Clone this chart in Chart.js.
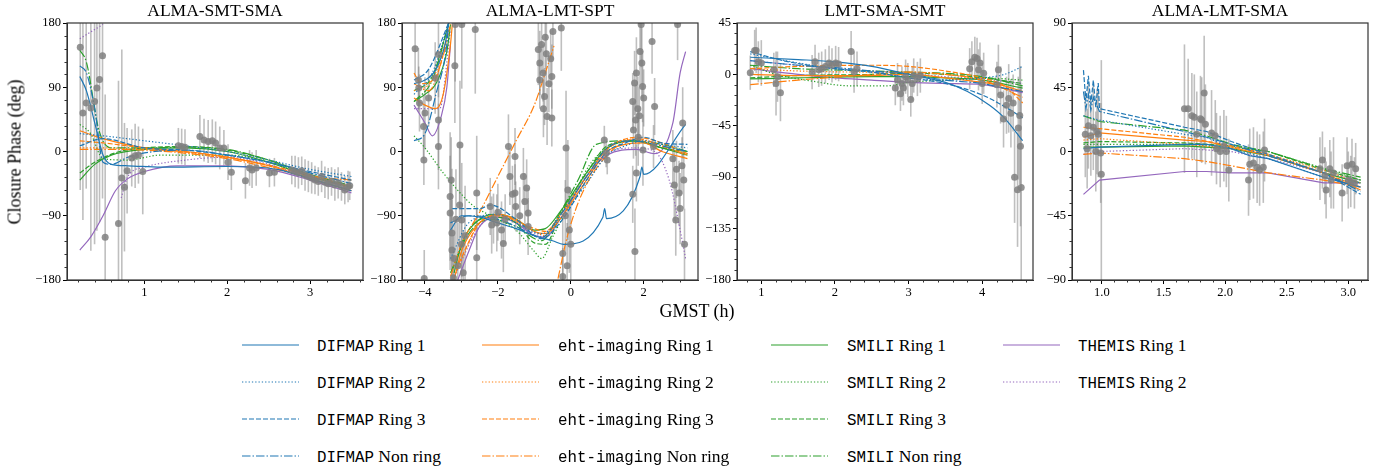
<!DOCTYPE html>
<html>
<head>
<meta charset="utf-8">
<script src="https://cdn.jsdelivr.net/npm/chart.js@4.4.1/dist/chart.umd.min.js"></script>
<style>
body { margin: 0; background: #fff; width: 1392px; height: 472px; position: relative; overflow: hidden; font-family: 'Liberation Serif', serif; color: #000; }
canvas { position: absolute; top: 0; }
.title { position: absolute; top: 0px; width: 296px; text-align: center; font-size: 17.5px; line-height: 20px; }
.ylab { position: absolute; left: 15px; top: 152px; transform: translate(-50%, -50%) rotate(-90deg); font-size: 18px; white-space: nowrap; }
.xlab { position: absolute; left: 697px; top: 311px; transform: translate(-50%, -50%); font-size: 18px; white-space: nowrap; }
.leg { position: absolute; font-size: 17.5px; line-height: 20px; white-space: nowrap; }
.tt { font-family: 'Liberation Mono', monospace; font-size: 15.8px; }
svg { position: absolute; overflow: visible; }
</style>
</head>
<body>
<script>
// legend / style info
const pipelines = ['DIFMAP', 'eht-imaging', 'SMILI', 'THEMIS'];
const variants = ['Ring 1', 'Ring 2', 'Ring 3', 'Non ring'];
const pipelineColors = ['#1f77b4', '#ff7f0e', '#2ca02c', '#9467bd'];
const variantDashes = [[], [1.3, 2], [5, 2], [8.5, 2, 1.5, 2]];

// ---------- ALMA-SMT-SMA ----------
const p1XTicks = [1, 2, 3];
const p1XLabels = ['1', '2', '3'];
const p1YTicks = [-180, -90, 0, 90, 180];
const p1YLabels = ['\u2212180', '\u221290', '0', '90', '180'];
const p1Time = [0.225,0.257,0.297,0.353,0.398,0.426,0.458,0.494,0.526,0.687,0.727,0.759,0.791,0.847,0.888,0.928,0.98,1.41,1.45,1.49,1.67,1.72,1.77,1.82,1.86,1.91,1.96,2.01,2.05,2.22,2.27,2.30,2.35,2.51,2.57,2.78,2.82,2.86,2.90,2.94,2.98,3.02,3.06,3.10,3.14,3.18,3.22,3.26,3.30,3.34,3.38,3.42,3.46,3.48];
const p1Phase = [146,54,68,61,70,89,101,134,-120,-101,-37,-50,-27,-9,-6,-5,-28,8,7,6,21,16,14,15,12,5,5,-15,-29,-41,-23,-26,-23,-30,-29,-26,-28,-30,-27,-33,-35,-37,-40,-42,-35,-43,-45,-42,-47,-44,-49,-54,-49,-48];
const p1Err = [200,150,120,200,200,200,200,200,200,200,180,90,60,40,45,40,60,25,25,25,30,30,30,30,30,30,25,25,25,25,25,25,25,20,20,20,22,22,20,22,22,22,20,20,22,22,22,20,22,22,20,20,22,20];
const p1Difmap = [
  [[0.22,105],[0.3,85],[0.4,40],[0.5,-5],[0.6,-18],[0.8,-20],[1.2,-22],[2.0,-21],[2.6,-25],[3.0,-38],[3.5,-55]],
  [[0.22,25],[0.5,22],[1.0,15],[1.5,8],[2.0,0],[2.5,-12],[3.0,-25],[3.5,-35]],
  [[0.22,8],[0.5,18],[1.0,5],[1.5,2],[2.0,-5],[2.5,-15],[3.0,-28],[3.5,-40]],
  [[0.22,120],[0.3,110],[0.4,60],[0.5,-15],[0.6,-18],[0.8,-8],[1.0,-2],[1.5,2],[2.0,-5],[2.5,-15],[3.0,-30],[3.5,-45]]
];
const p1Eht = [
  [[0.22,29],[0.5,18],[1.0,5],[1.5,0],[2.0,-8],[2.5,-20],[3.0,-38],[3.5,-55]],
  [[0.22,5],[0.5,5],[1.0,3],[2.0,-8],[3.0,-35],[3.5,-52]],
  [[0.22,15],[0.5,12],[1.0,5],[2.0,-8],[3.0,-33],[3.5,-50]],
  [[0.22,3],[0.5,3],[1.0,2],[2.0,-10],[3.0,-35],[3.5,-40]]
];
const p1Smili = [
  [[0.22,-40],[0.4,-18],[0.6,-5],[1.0,3],[1.5,5],[2.0,0],[2.5,-15],[3.0,-35],[3.5,-50]],
  [[0.22,38],[0.35,25],[0.5,-10],[0.8,-12],[1.2,-5],[2.0,-5],[3.0,-33],[3.5,-50]],
  [[0.22,-30],[0.4,-15],[0.7,0],[1.0,5],[1.5,7],[2.0,2],[2.5,-12],[3.0,-33],[3.5,-50]],
  [[0.22,142],[0.3,125],[0.45,30],[0.6,5],[1.0,5],[1.5,6],[2.0,3],[2.5,-12],[3.0,-32],[3.5,-48]]
];
const p1Themis = [
  [[0.22,-138],[0.35,-120],[0.5,-90],[0.65,-55],[0.8,-38],[1.0,-28],[1.4,-20],[2.0,-20],[2.5,-25],[3.0,-40],[3.5,-58]],
  [[0.22,158],[0.5,178],null,[0.72,-65],[0.8,-35],[1.0,-22],[1.5,-12],[2.0,-8],[2.5,-18],[3.0,-38],[3.5,-55]]
];

// ---------- ALMA-LMT-SPT ----------
const p2XTicks = [-4, -2, 0, 2];
const p2XLabels = ['\u22124', '\u22122', '0', '2'];
const p2YTicks = [-180, -90, 0, 90, 180];
const p2YLabels = ['\u2212180', '\u221290', '0', '90', '180'];
const p2Time = [-4.27,-4.18,-4.17,-4.15,-4.04,-4.03,-4.0,-3.9,-3.63,-3.63,-3.63,-3.72,-4.02,-3.31,-3.31,-3.26,-3.26,-3.22,-3.17,-3.04,-2.99,-2.99,-2.9,-2.62,-2.58,-2.58,-2.21,-2.17,-2.12,-2.03,-1.85,-1.71,-1.67,-1.53,-1.53,-1.51,-1.26,-1.21,-1.17,-1.17,-0.89,-0.85,-0.76,-0.67,-0.72,-0.65,-0.49,-0.52,-0.52,-0.26,-0.13,-0.08,-0.04,-0.22,-0.22,0.92,0.97,1.0,1.70,1.75,1.78,1.84,1.93,1.95,1.97,1.98,1.76,1.8,2.23,2.27,2.3,2.84,2.88,2.93,2.97,3.07,3.1,
  -3.28,-3.2,-3.15,-3.1,-3.05,-3.0,-2.95,-3.18,-2.0,-1.9,-1.8,-1.6,-1.4,-1.3,-0.8,-0.7,-0.6,-0.55,-0.85,-0.75,-0.1,0.0,-0.15,1.72,1.8,1.85,1.9,1.88,2.0,1.7,2.8,2.9,3.0,3.05,3.12];
const p2Phase = [144,100,89,68,35,-12,54,75,136,44,7,103,-178,-63,-86,-114,-138,-177,178,9,178,-96,-118,171,-58,-149,-77,-103,-94,-100,-129,7,-35,-7,-58,-77,-70,-51,-86,-105,143,124,110,137,77,49,168,105,47,173,5,-54,-110,-143,-175,16,-2,-12,70,96,44,60,178,124,91,2,-140,-30,154,7,63,-47,-96,178,-58,40,-40,
  -40,-150,-95,-160,-75,-130,-170,120,-85,-110,-95,-60,-90,-35,150,160,95,130,100,60,-160,-130,-90,30,110,20,140,50,75,-60,-10,-25,-80,-20,-130];
const p2Err = [40,45,30,40,45,35,50,40,60,70,60,50,40,90,80,90,70,60,80,90,90,80,70,90,80,70,40,40,35,40,40,45,40,40,40,35,40,40,35,40,50,45,40,45,40,40,40,45,40,60,80,70,60,50,40,20,20,20,40,45,50,45,60,50,50,50,60,40,45,30,40,50,50,50,45,50,40,
  60,50,70,60,80,50,60,80,40,40,35,40,40,40,40,45,40,40,40,40,60,60,50,40,50,40,50,40,40,40,40,40,50,40,50];
const p2Difmap = [
  [[-4.3,95],[-4.0,100],[-3.7,115],[-3.45,150],[-3.35,180],null,[-3.3,-110],[-3.0,-90],[-2.5,-92],[-2.0,-100],[-1.5,-108],[-1.0,-118],[-0.5,-125],[-0.2,-130],[0.88,-92],[0.93,-80],[0.98,-94],[1.9,-35],[1.95,-22],[2.0,-32],[3.15,38]],
  [[-4.3,80],[-3.8,110],[-3.35,180],null,[-3.3,-150],[-2.8,-100],[-2.0,-88],[-1.5,-100],[-0.8,-115],[-0.3,-95],[0.5,-40],[1.0,-5],[1.5,8],[2.0,15],[2.5,10],[3.2,5]],
  [[-4.3,100],[-3.9,115],[-3.35,180],null,[-3.25,-80],[-2.5,-80],[-2.2,-75],[-1.5,-95],[-0.8,-122],[-0.3,-100],[0.5,-35],[1.0,0],[1.5,12],[2.0,20],[2.5,12],[3.2,10]],
  [[-4.3,15],[-4.0,25],[-3.7,80],[-3.4,150],[-3.35,180],null,[-3.3,-100],[-2.8,-90],[-2.0,-95],[-1.5,-105],[-0.8,-120],[-0.3,-90],[0.5,-30],[1.0,5],[1.7,15],[2.3,10],[3.2,0]]
];
const p2Eht = [
  [[-4.3,75],[-4.0,65],[-3.7,60],[-3.5,80],[-3.3,150],[-3.25,178],null,[-3.2,-180],[-3.0,-140],[-2.6,-105],[-2.0,-88],[-1.5,-95],[-1.0,-112],[-0.7,-115],[-0.3,-95],[0.3,-50],[1.0,0],[1.5,10],[2.0,12],[2.5,0],[3.2,-10]],
  [[-4.3,85],[-3.8,100],[-3.3,175],null,[-3.15,-170],[-2.5,-100],[-2.0,-90],[-1.0,-112],[-0.7,-118],[-0.3,-90],[0.5,-30],[1.0,5],[1.7,17],[2.3,10],[3.2,-5]],
  [[-4.3,110],[-4.1,95],[-3.7,105],[-3.3,178],null,[-3.15,-165],[-2.5,-100],[-2.0,-90],[-1.0,-108],[-0.7,-112],[-0.3,-90],[0.5,-30],[1.0,3],[1.8,20],[2.5,12],[3.2,-3]],
  [[-4.3,95],[-3.9,85],[-3.4,150],null,[-3.3,-175],[-3.0,-130],[-2.5,-85],[-2.0,-35],[-1.5,15],[-1.0,65],[-0.7,110],[-0.46,148],null,[-0.35,-178],[-0.1,-120],[0.3,-60],[1.0,-5],[1.8,18],[2.5,8],[3.2,-5]]
];
const p2Smili = [
  [[-4.3,70],[-4.0,80],[-3.7,95],[-3.4,140],[-3.3,178],null,[-3.2,-170],[-3.0,-130],[-2.5,-95],[-2.0,-88],[-1.5,-95],[-1.0,-110],[-0.7,-108],[-0.3,-85],[0.5,-25],[1.0,5],[1.7,15],[2.5,5],[3.2,-5]],
  [[-4.3,22],[-4.0,5],[-3.5,-30],[-3.0,-60],[-2.7,-75],[-2.2,-90],[-1.5,-110],[-1.0,-140],[-0.8,-150],[-0.5,-120],[0.0,-70],[0.5,-20],[1.0,5],[1.8,15],[2.5,5],[3.2,-3]],
  [[-4.3,85],[-3.8,105],[-3.35,178],null,[-3.25,-165],[-2.8,-110],[-2.2,-92],[-1.5,-100],[-1.0,-128],[-0.7,-130],[-0.3,-90],[0.5,-25],[1.0,8],[1.8,15],[2.5,5],[3.2,0]],
  [[-4.3,70],[-3.8,100],[-3.4,170],[-3.35,180],null,[-3.3,-170],[-2.8,-115],[-2.2,-95],[-1.5,-105],[-0.8,-125],[-0.4,-95],[0.2,-40],[0.7,10],[1.5,15],[2.5,10],[3.2,0]]
];
const p2Themis = [
  [[-4.3,65],[-4.0,40],[-3.8,22],[-3.55,50],[-3.4,90],[-3.3,150],null,[-3.1,-180],[-2.8,-140],[-2.5,-105],[-2.0,-92],[-1.5,-100],[-1.0,-118],[-0.7,-120],[-0.3,-95],[0.5,-30],[1.0,-5],[1.8,3],[2.3,-3],[2.8,40],[3.0,110],[3.15,140]],
  [[-4.3,60],[-3.6,60],[-3.3,170],null,[-3.2,-175],[-2.5,-105],[-2.0,-90],[-1.0,-115],[-0.7,-120],[-0.3,-90],[0.5,-30],[1.0,-2],[1.8,5],[2.3,0],[2.7,-40],[3.0,-110],[3.15,-150]]
];

// ---------- LMT-SMA-SMT ----------
const p3XTicks = [1, 2, 3, 4];
const p3XLabels = ['1', '2', '3', '4'];
const p3YTicks = [-180, -135, -90, -45, 0, 45];
const p3YLabels = ['\u2212180', '\u2212135', '\u221290', '\u221245', '0', '45'];
const p3Time = [0.85,0.91,0.93,0.96,1.0,1.17,1.2,1.22,1.26,1.69,1.73,1.78,1.82,1.87,1.92,1.96,2.01,2.05,2.22,2.26,2.30,2.82,2.85,2.89,2.91,2.93,2.96,2.99,3.03,3.05,3.07,3.12,3.16,3.83,3.86,3.9,3.93,3.95,3.97,4.0,4.02,4.2,4.22,4.25,4.29,4.33,4.36,4.39,4.42,4.44,4.48,4.49,4.51,4.52,4.53];
const p3Phase = [1.5,21,21,11,10,4,-8,-2,-16,2,11,4,5,7,10,8,10,9,20,2,5,-12,-5,-17,-8,-12,-2,-5,-22,-8,-1,-4,-1,5,11,15,14,4,10,-8,1,-9,4,-18,-39,-27,-21,-34,-25,-90,-101,-47,-36,-63,-99];
const p3Err = [15,18,20,18,20,15,28,22,25,15,15,15,15,15,15,15,15,15,18,18,15,15,15,15,15,15,15,15,15,15,15,15,15,18,18,18,18,18,18,18,18,20,22,25,25,25,30,30,25,40,50,45,60,70,90];
const p3Difmap = [
  [[0.85,15],[1.5,13],[2.0,11],[2.5,7],[3.0,0],[3.5,-7],[3.8,-15],[4.1,-27],[4.3,-38],[4.55,-58]],
  [[0.85,18],[1.5,10],[2.0,5],[2.5,2],[3.0,-3],[3.5,-5],[4.0,-3],[4.3,0],[4.55,7]],
  [[0.85,20],[1.3,12],[2.0,5],[2.5,2],[3.0,-3],[3.5,-8],[4.0,-18],[4.3,-28],[4.55,-38]],
  [[0.85,12],[1.5,8],[2.0,6],[2.5,3],[3.0,0],[3.5,-5],[4.0,-8],[4.3,-12],[4.55,-15]]
];
const p3Eht = [
  [[0.85,0],[1.5,-1],[2.5,-1],[3.0,0],[3.5,-3],[4.0,-7],[4.3,-10],[4.55,-15]],
  [[0.85,5],[1.5,3],[2.5,2],[3.0,2],[3.5,0],[4.0,-5],[4.55,-15]],
  [[0.85,5],[1.5,7],[2.5,8],[3.0,7],[3.5,3],[4.0,-3],[4.3,-10],[4.55,-25]],
  [[0.85,-9],[1.5,-5],[2.5,0],[3.0,2],[3.5,0],[4.0,-5],[4.55,-20]]
];
const p3Smili = [
  [[0.85,-4],[1.5,-3],[2.5,-2],[3.0,-2],[3.5,-3],[4.0,-5],[4.55,-12]],
  [[0.85,8],[1.2,0],[1.7,-6],[2.2,-10],[2.7,-10],[3.0,-7],[3.5,-5],[4.0,-3],[4.55,-5]],
  [[0.85,-3],[1.5,-1],[2.5,0],[3.0,1],[3.5,0],[4.0,-3],[4.55,-8]],
  [[0.85,8],[1.5,5],[2.5,3],[3.0,2],[3.5,1],[4.0,-2],[4.55,-10]]
];
const p3Themis = [
  [[0.85,5],[1.5,0],[2.0,-3],[2.5,-5],[3.0,-7],[3.5,-8],[4.0,-9],[4.55,-16]],
  [[0.85,12],[1.5,8],[2.0,5],[2.5,3],[3.0,1],[3.5,-2],[4.0,-4],[4.55,-8]]
];

// ---------- ALMA-LMT-SMA ----------
const p4XTicks = [1.0, 1.5, 2.0, 2.5, 3.0];
const p4XLabels = ['1.0', '1.5', '2.0', '2.5', '3.0'];
const p4YTicks = [-90, -45, 0, 45, 90];
const p4YLabels = ['\u221290', '\u221245', '0', '45', '90'];
const p4Time = [0.865,0.88,0.89,0.91,0.93,0.95,0.96,0.97,0.99,0.995,1.67,1.70,1.73,1.75,1.77,1.80,1.81,1.83,1.84,1.89,1.92,1.93,1.96,1.99,2.01,2.03,2.19,2.20,2.23,2.26,2.28,2.31,2.32,2.77,2.79,2.81,2.82,2.85,2.86,2.88,2.95,2.99,3.0,3.02,3.03,3.05,3.06];
const p4Phase = [12,2,18,11,17,0,14,12,-1,-16,30,30,25,24,12,23,22,41,19,13,11,2,0,4,0,-13,-20,-9,-8,-11,-13,-11,1,-12,-6,-17,-27,-12,-20,-15,-29,-10,-20,-21,-9,-22,-12];
const p4Err = [30,28,30,28,30,28,30,30,35,80,45,35,30,30,30,30,30,40,28,30,25,25,25,25,25,22,25,25,25,25,25,25,22,22,20,20,20,20,20,25,20,20,20,18,18,18,18];
const p4Difmap = [
  [[0.85,2],[0.98,3],[1.67,5],[1.85,5],[2.05,2],[2.2,-3],[2.35,-5],[2.8,-18],[3.1,-25]],
  [[0.85,25],[0.98,22],[1.67,12],[1.85,10],[2.05,2],[2.35,-5],[2.8,-18],[3.1,-22]],
  [[0.85,57],[0.87,35],[0.89,53],[0.91,33],[0.93,50],[0.95,31],[0.97,48],[0.98,30],[1.67,17],[1.85,14],[2.05,7],[2.35,-2],[2.8,-15],[3.1,-30]],
  [[0.85,42],[0.87,30],[0.89,40],[0.91,29],[0.93,38],[0.98,28],[1.67,14],[1.85,10],[2.05,5],[2.35,-3],[2.8,-15],[3.1,-28]]
];
const p4Eht = [
  [[0.85,10],[0.98,13],[1.67,8],[1.85,7],[2.05,3],[2.35,-3],[2.8,-15],[3.1,-27]],
  [[0.85,8],[0.98,9],[1.67,5],[2.05,2],[2.35,-2],[2.8,-13],[3.1,-22]],
  [[0.85,17],[0.98,16],[1.67,10],[2.05,4],[2.35,-2],[2.8,-15],[3.1,-25]],
  [[0.85,-2],[0.98,-1],[1.67,-5],[1.85,-7],[2.05,-10],[2.35,-15],[2.8,-20],[3.1,-25]]
];
const p4Smili = [
  [[0.85,3],[0.98,3],[1.67,4],[2.05,2],[2.35,-3],[2.8,-15],[3.1,-22]],
  [[0.85,5],[0.98,5],[1.67,5],[2.05,3],[2.35,0],[2.8,-12],[3.1,-20]],
  [[0.85,6],[0.98,7],[1.67,6],[2.05,4],[2.35,0],[2.8,-13],[3.1,-20]],
  [[0.85,25],[0.98,21],[1.67,15],[1.85,11],[2.05,5],[2.35,0],[2.8,-12],[3.1,-18]]
];
const p4Themis = [
  [[0.85,-30],[0.98,-20],[1.67,-14],[1.85,-14],[2.05,-15],[2.2,-15],[2.35,-15],[2.8,-22],[3.1,-22]],
  [[0.85,-2],[0.98,0],[1.67,2],[2.05,0],[2.35,-5],[2.8,-15],[3.1,-20]]
];

const panels = [
  { title: 'ALMA-SMT-SMA', left: 67, xMin: 0.065, xMax: 3.64, yMin: -180, yMax: 180, xTicks: p1XTicks, xLabels: p1XLabels, yTicks: p1YTicks, yLabels: p1YLabels, xMinor: 0.2, yMinor: 18, smooth: true, obs: [p1Time, p1Phase, p1Err], models: [p1Difmap, p1Eht, p1Smili, p1Themis] },
  { title: 'ALMA-LMT-SPT', left: 402, xMin: -4.63, xMax: 3.49, yMin: -180, yMax: 180, xTicks: p2XTicks, xLabels: p2XLabels, yTicks: p2YTicks, yLabels: p2YLabels, xMinor: 0.5, yMinor: 18, smooth: true, obs: [p2Time, p2Phase, p2Err], models: [p2Difmap, p2Eht, p2Smili, p2Themis] },
  { title: 'LMT-SMA-SMT', left: 737, xMin: 0.67, xMax: 4.69, yMin: -180, yMax: 45, xTicks: p3XTicks, xLabels: p3XLabels, yTicks: p3YTicks, yLabels: p3YLabels, xMinor: 0.2, yMinor: 9, smooth: true, obs: [p3Time, p3Phase, p3Err], models: [p3Difmap, p3Eht, p3Smili, p3Themis] },
  { title: 'ALMA-LMT-SMA', left: 1072, xMin: 0.757, xMax: 3.16, yMin: -90, yMax: 90, xTicks: p4XTicks, xLabels: p4XLabels, yTicks: p4YTicks, yLabels: p4YLabels, xMinor: 0.1, yMinor: 9, smooth: false, obs: [p4Time, p4Phase, p4Err], models: [p4Difmap, p4Eht, p4Smili, p4Themis] }
];

const tickFont = { family: "'Liberation Serif', serif", size: 12.5 };

// gray error bars for the observed points (dataset 0)
const errorBars = {
  id: 'errorBars',
  beforeDatasetsDraw(chart) {
    const { ctx, chartArea: a, scales: { x, y } } = chart;
    const ds = chart.data.datasets[0];
    ctx.save();
    ctx.beginPath();
    ctx.rect(a.left, a.top, a.width, a.height);
    ctx.clip();
    ctx.strokeStyle = 'rgba(128,128,128,0.5)';
    ctx.lineWidth = 1.6;
    ds.data.forEach((pt, i) => {
      const px = x.getPixelForValue(pt.x);
      ctx.beginPath();
      ctx.moveTo(px, y.getPixelForValue(pt.y - ds.errors[i]));
      ctx.lineTo(px, y.getPixelForValue(pt.y + ds.errors[i]));
      ctx.stroke();
    });
    ctx.restore();
  }
};

// box around the axes + matplotlib style minor ticks
function framePlugin(p) {
  return {
    id: 'frame',
    afterDatasetsDraw(chart) {
      const { ctx, chartArea: a, scales: { x, y } } = chart;
      ctx.save();
      ctx.strokeStyle = '#333';
      ctx.lineWidth = 1.2;
      ctx.strokeRect(a.left, a.top, a.width, a.height);
      ctx.lineWidth = 1;
      ctx.beginPath();
      for (let v = Math.ceil(p.yMin / p.yMinor) * p.yMinor; v <= p.yMax + 1e-9; v += p.yMinor) {
        if (p.yTicks.some(t => Math.abs(t - v) < 1e-6)) continue;
        const py = Math.round(y.getPixelForValue(v)) + 0.5;
        ctx.moveTo(a.left, py); ctx.lineTo(a.left - 2.5, py);
      }
      for (let v = Math.ceil(p.xMin / p.xMinor) * p.xMinor; v <= p.xMax + 1e-9; v += p.xMinor) {
        if (p.xTicks.some(t => Math.abs(t - v) < 1e-6)) continue;
        const px = Math.round(x.getPixelForValue(v)) + 0.5;
        ctx.moveTo(px, a.bottom); ctx.lineTo(px, a.bottom + 2.5);
      }
      ctx.stroke();
      ctx.restore();
    }
  };
}

function toPoints(curve) {
  return curve.map((pt, i) => pt === null ? { x: curve[i - 1][0], y: null } : { x: pt[0], y: pt[1] });
}

panels.forEach(p => {
  const canvas = document.createElement('canvas');
  canvas.width = 362;
  canvas.height = 305;
  canvas.style.left = (p.left - 60) + 'px';
  document.body.appendChild(canvas);

  const title = document.createElement('div');
  title.className = 'title';
  title.style.left = p.left + 'px';
  title.textContent = p.title;
  document.body.appendChild(title);

  const datasets = [{
    data: p.obs[0].map((t, i) => ({ x: t, y: p.obs[1][i] })),
    errors: p.obs[2],
    showLine: false,
    pointRadius: 3.5,
    pointBackgroundColor: 'rgba(128,128,128,0.85)',
    pointBorderWidth: 0,
    clip: 0
  }];
  p.models.forEach((group, i) => {
    group.forEach((curve, j) => {
      datasets.push({
        data: toPoints(curve),
        borderColor: pipelineColors[i],
        borderWidth: 1.2,
        borderDash: variantDashes[j],
        pointRadius: 0,
        fill: false,
        tension: p.smooth ? 0.4 : 0,
        cubicInterpolationMode: p.smooth ? 'monotone' : 'default',
        spanGaps: false,
        clip: 0
      });
    });
  });

  new Chart(canvas, {
    type: 'line',
    data: { datasets },
    options: {
      responsive: false,
      animation: false,
      events: [],
      layout: { padding: { top: 23, right: 6, left: 0, bottom: 0 } },
      plugins: { legend: { display: false }, tooltip: { enabled: false } },
      scales: {
        x: {
          type: 'linear', min: p.xMin, max: p.xMax,
          afterBuildTicks: s => { s.ticks = p.xTicks.map(v => ({ value: v })); },
          afterFit: s => { s.height = 25; },
          ticks: { callback: (v, i) => p.xLabels[i], font: tickFont, color: '#000', padding: 1, maxRotation: 0, autoSkip: false },
          grid: { drawOnChartArea: false, tickLength: 4, color: '#000' },
          border: { color: '#333' }
        },
        y: {
          type: 'linear', min: p.yMin, max: p.yMax,
          afterBuildTicks: s => { s.ticks = p.yTicks.map(v => ({ value: v })); },
          afterFit: s => { s.width = 60; },
          ticks: { callback: (v, i) => p.yLabels[i], font: tickFont, color: '#000', padding: 2, autoSkip: false },
          grid: { drawOnChartArea: false, tickLength: 4, color: '#000' },
          border: { color: '#333' }
        }
      }
    },
    plugins: [errorBars, framePlugin(p)]
  });
});

// axis labels
const ylab = document.createElement('div');
ylab.className = 'ylab';
ylab.textContent = 'Closure Phase (deg)';
document.body.appendChild(ylab);
const xlab = document.createElement('div');
xlab.className = 'xlab';
xlab.textContent = 'GMST (h)';
document.body.appendChild(xlab);

// legend: one column per pipeline
const legLineX = [242, 482, 771, 1003];
const legTextX = [317, 558, 847, 1078];
const legRowY = [345, 382, 419, 456];
const dashCss = ['none', '1.3 2', '5 2', '8.5 2 1.5 2'];
pipelines.forEach((name, i) => {
  const count = panels[0].models[i].length;
  for (let j = 0; j < count; j++) {
    const svg = document.createElementNS('http://www.w3.org/2000/svg', 'svg');
    svg.setAttribute('width', 57);
    svg.setAttribute('height', 4);
    svg.style.left = legLineX[i] + 'px';
    svg.style.top = (legRowY[j] - 2) + 'px';
    const ln = document.createElementNS('http://www.w3.org/2000/svg', 'line');
    ln.setAttribute('x1', 0); ln.setAttribute('x2', 57);
    ln.setAttribute('y1', 2); ln.setAttribute('y2', 2);
    ln.setAttribute('stroke', pipelineColors[i]);
    ln.setAttribute('stroke-width', 1.2);
    if (dashCss[j] !== 'none') ln.setAttribute('stroke-dasharray', dashCss[j]);
    svg.appendChild(ln);
    document.body.appendChild(svg);

    const item = document.createElement('div');
    item.className = 'leg';
    item.style.left = legTextX[i] + 'px';
    item.style.top = (legRowY[j] - 10) + 'px';
    const tt = document.createElement('span');
    tt.className = 'tt';
    tt.textContent = name;
    item.appendChild(tt);
    item.appendChild(document.createTextNode(' ' + variants[j]));
    document.body.appendChild(item);
  }
});
</script>
</body>
</html>
